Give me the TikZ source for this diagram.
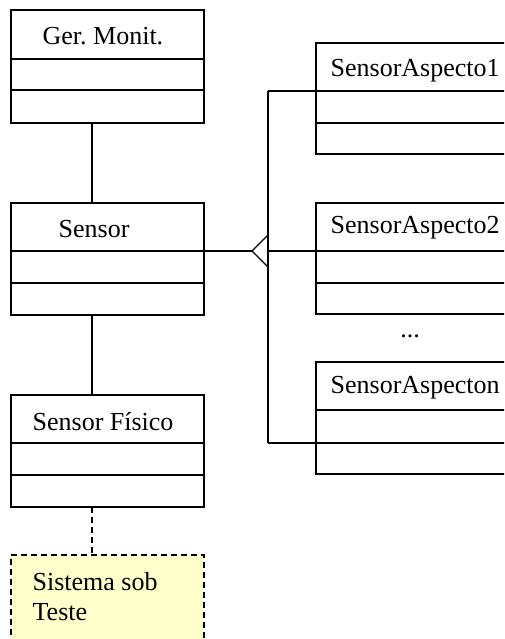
\documentclass[tikz,border=0pt]{standalone}
\usepackage{fontspec}
\setmainfont{Liberation Serif}
\definecolor{notefill}{HTML}{FFFFCC}
\frenchspacing
\begin{document}
\begin{tikzpicture}[x=1pt,y=-1pt,
  line width=1.3pt,
  classbox/.style={draw, rectangle, inner sep=0pt, outer sep=0pt, anchor=north west},
  label/.style={inner sep=0pt, anchor=base west, font=\fontsize{26}{30}\selectfont},
  notebox/.style={draw, rectangle, dash pattern=on 6pt off 4pt, fill=notefill,
    inner sep=0pt, outer sep=0pt, anchor=north west}]
\useasboundingbox (0,0) rectangle (504,639);
\clip (0,0) rectangle (504,639);

% left column of classes
\node[classbox, minimum width=193pt, minimum height=113pt] (ger) at (11,10) {};
\node[classbox, minimum width=193pt, minimum height=112pt] (sensor) at (11,203) {};
\node[classbox, minimum width=193pt, minimum height=112pt] (fisico) at (11,395) {};
\node[notebox, minimum width=193pt, minimum height=100pt] (sut) at (11,555) {};

% right column of classes (running past the right edge)
\node[classbox, minimum width=214pt, minimum height=111pt] (asp1) at (316,43) {};
\node[classbox, minimum width=214pt, minimum height=111pt] (asp2) at (316,203) {};
\node[classbox, minimum width=214pt, minimum height=112pt] (aspn) at (316,362) {};

% compartment dividers
\foreach \b/\a/\c in {ger/49/80, sensor/48/80, fisico/48/80, asp1/48/80, asp2/48/80, aspn/48/81}{
  \draw ([yshift=-\a]\b.north west) -- ([yshift=-\a]\b.north east);
  \draw ([yshift=-\c]\b.north west) -- ([yshift=-\c]\b.north east);
}

% class names
\node[label] (tger) at (42,45) {Ger. Monit.};
\node[label] (tsensor) at (58,237) {Sensor};
\node[label] (tfisico) at (32,430) {Sensor Físico};
\node[label] (tsut1) at (32,590) {Sistema sob};
\node[label] (tsut2) at (32,620) {Teste};
\node[label] (tasp1) at (330,77) {SensorAspecto1};
\node[label] (tasp2) at (330,233) {SensorAspecto2};
\node[label] (taspn) at (330,393) {SensorAspecton};
\node[label, anchor=base] (dots) at (410,337) {...};

% associations
\draw ([xshift=-15.5]ger.south) -- ([xshift=-15.5]sensor.north);
\draw ([xshift=-15.5]sensor.south) -- ([xshift=-15.5]fisico.north);
\draw[dash pattern=on 6pt off 4pt] ([xshift=-15.5]fisico.south) -- ([xshift=-15.5]sut.north);

% generalization
\coordinate (tip) at (252,251);
\coordinate (bus1) at (268,91);
\coordinate (bus2) at (268,251);
\coordinate (busn) at (268,443);
\draw ([yshift=-48]sensor.north east) -- (tip);
\draw (268,235) -- (tip) -- (268,267);
\draw (bus1) -- (busn);
\draw (bus1) -- ([yshift=-48]asp1.north west);
\draw (bus2) -- ([yshift=-48]asp2.north west);
\draw (busn) -- ([yshift=-81]aspn.north west);
\end{tikzpicture}
\end{document}
